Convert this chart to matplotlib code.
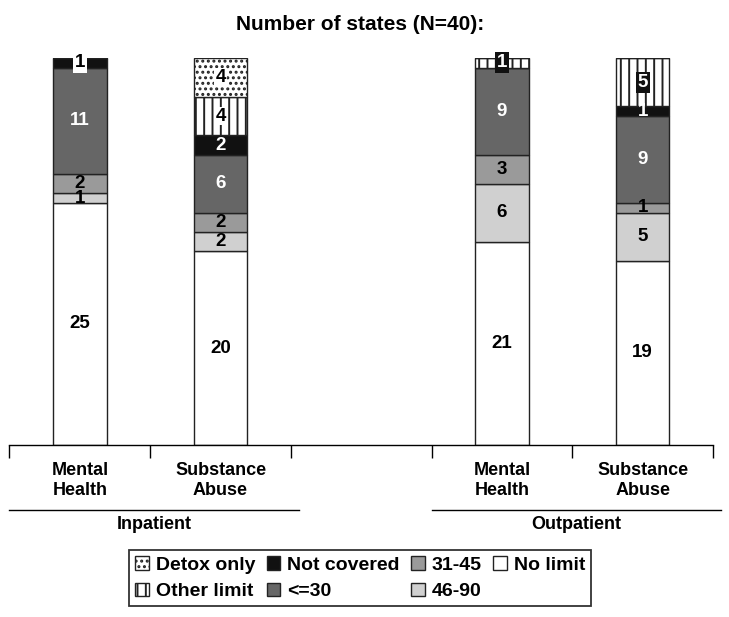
"""Stacked bars: number of states by day-limit category (N=40)."""

import matplotlib.pyplot as plt
from matplotlib.patches import Patch
from matplotlib.lines import Line2D

plt.rcParams["font.family"] = ["Liberation Sans", "DejaVu Sans"]
plt.rcParams["font.weight"] = "bold"
plt.rcParams["hatch.linewidth"] = 1.4

bar_labels = ["Mental\nHealth", "Substance\nAbuse", "Mental\nHealth", "Substance\nAbuse"]
bar_pos = [0, 1, 3, 4]
groups = ["Inpatient", "Outpatient"]

# segments stacked bottom -> top
categories = ["No limit", "46-90", "31-45", "<=30", "Not covered", "Other limit", "Detox only"]
no_limit = [25, 20, 21, 19]
d46_90 = [1, 2, 6, 5]
d31_45 = [2, 2, 3, 1]
le30 = [11, 6, 9, 9]
not_covered = [1, 2, 0, 1]
other_limit = [0, 4, 1, 5]
detox_only = [0, 4, 0, 0]
series = [no_limit, d46_90, d31_45, le30, not_covered, other_limit, detox_only]

faces = ["white", "#d0d0d0", "#9a9a9a", "#666666", "#111111", "white", "white"]
hatches = [None, None, None, None, None, "||", "..."]
text_colors = ["black", "black", "black", "white", "white", "black", "black"]

fig = plt.figure(figsize=(7.29, 6.17), dpi=100)
ax = fig.add_axes([0.013, 0.279, 0.965, 0.627])

bottoms = [0] * len(bar_pos)
for cat, vals, fc, h, tc in zip(categories, series, faces, hatches, text_colors):
    ax.bar(bar_pos, vals, width=0.38, bottom=bottoms, color=fc, hatch=h,
           edgecolor="#222222", linewidth=1.0)
    for i, (x, v) in enumerate(zip(bar_pos, vals)):
        if v == 0:
            continue
        y = bottoms[i] + v / 2
        color = tc
        box = None
        if cat == "Not covered" and i == 0:
            color = "black"
            box = dict(boxstyle="square,pad=0.1", fc="white", ec="none")
        elif cat in ("Other limit", "Detox only"):
            if bar_pos[i] >= 3:
                color = "white"
                box = dict(boxstyle="square,pad=0.1", fc="#111111", ec="none")
            else:
                box = dict(boxstyle="square,pad=0.05", fc="white", ec="none")
        ax.text(x, y, str(v), ha="center", va="center", fontsize=13.5,
                fontweight="bold", color=color, bbox=box)
    bottoms = [b + v for b, v in zip(bottoms, vals)]

ax.set_xlim(-0.5, 4.5)
ax.set_ylim(0, 40)
for side in ("left", "right", "top"):
    ax.spines[side].set_visible(False)
ax.spines["bottom"].set_linewidth(1.0)
ax.set_yticks([])
ax.set_xticks([-0.5, 0.5, 1.5, 2.5, 3.5, 4.5])
ax.set_xticklabels([])
ax.tick_params(axis="x", which="major", length=9, width=1.0, direction="out")
ax.set_xticks(bar_pos, minor=True)
ax.set_xticklabels(bar_labels, minor=True, fontsize=13, fontweight="bold",
                   linespacing=1.3)
ax.tick_params(axis="x", which="minor", length=0, pad=12)

for (x0, x1), name in zip([(-0.5, 1.56), (2.5, 4.56)], groups):
    ax.add_line(Line2D([x0, x1], [-0.168, -0.168], color="black", linewidth=1.0,
                       transform=ax.get_xaxis_transform(), clip_on=False))
    ax.text((x0 + x1) / 2, -0.205, name, ha="center", va="center", fontsize=13,
            fontweight="bold", transform=ax.get_xaxis_transform())

fig.suptitle("Number of states (N=40):", x=0.494, y=0.975, fontsize=15,
             fontweight="bold")

order = [6, 5, 4, 3, 2, 1, 0]
handles = [Patch(facecolor=faces[k], hatch=hatches[k], edgecolor="#222222",
                 label=categories[k]) for k in order]
leg = fig.legend(handles=handles, loc="center", bbox_to_anchor=(0.494, 0.063),
                 ncol=4, fontsize=14, frameon=True, fancybox=False,
                 handlelength=0.7, handleheight=0.7, handletextpad=0.35,
                 columnspacing=0.6, labelspacing=0.45, borderpad=0.3)
leg.get_frame().set_edgecolor("black")
leg.get_frame().set_linewidth(1.3)
for t in leg.get_texts():
    t.set_fontweight("bold")

fig.savefig("out.png", dpi=100)
